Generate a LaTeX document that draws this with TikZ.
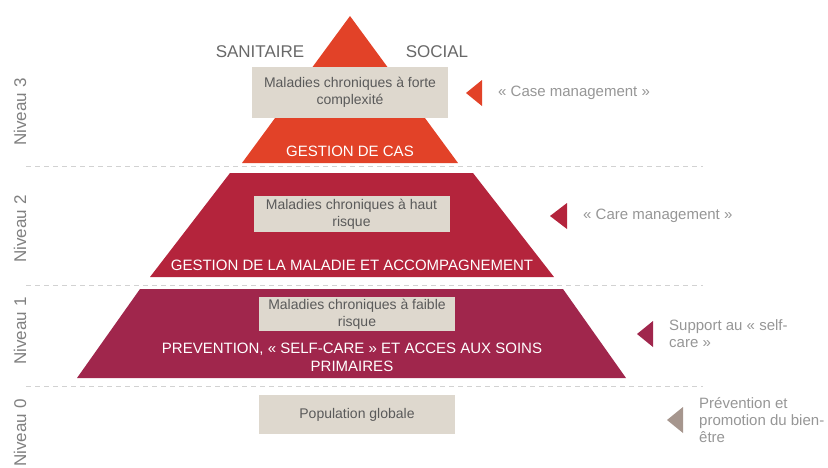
\documentclass[tikz,border=0pt]{standalone}
\usepackage{fontspec}
\setmainfont{Liberation Sans}
\usetikzlibrary{positioning}
\definecolor{pyrorange}{RGB}{226,66,40}
\definecolor{pyrred}{RGB}{180,36,60}
\definecolor{pyrwine}{RGB}{160,38,76}
\definecolor{pyrbeige}{RGB}{222,216,206}
\definecolor{pyrtaupe}{RGB}{166,150,142}
\definecolor{pyrgray}{RGB}{128,128,128}
\definecolor{pyrdark}{RGB}{104,104,104}
\definecolor{pyrlight}{RGB}{150,150,150}
\definecolor{pyrtext}{RGB}{90,90,90}
\definecolor{pyrline}{RGB}{210,210,210}

\begin{document}
\begin{tikzpicture}[
  x=1pt,y=-1pt,
  every node/.style={inner sep=0pt},
  sepline/.style={pyrline,line width=0.9pt,dash pattern=on 5pt off 4pt},
  lvlname/.style={rotate=90,text=pyrgray,font=\fontsize{17}{20}\selectfont},
  sidetitle/.style={text=pyrdark,font=\fontsize{17}{20}\selectfont},
  casebox/.style={fill=pyrbeige,minimum width=196pt,align=center,
                  text=pyrtext,font=\fontsize{14}{17}\selectfont},
  lvltitle/.style={text=white,align=center,font=\fontsize{15}{18}\selectfont},
  sidenote/.style={anchor=west,align=left,text=pyrlight,font=\fontsize{15}{17}\selectfont},
]
  \useasboundingbox (0,0) rectangle (828,467);

  % level separators
  \draw[sepline] (26,166) -- (703,166);
  \draw[sepline] (26,285) -- (703,285);
  \draw[sepline] (26,386) -- (703,386);

  % pyramid
  \fill[pyrorange] (350,16) -- (458,163) -- (242,163) -- cycle;
  \fill[pyrred] (230,173) -- (473,173) -- (554,277) -- (150,277) -- cycle;
  \fill[pyrwine] (140,289) -- (563,289) -- (626,378) -- (77,378) -- cycle;

  % level names
  \node[lvlname] (niv3) at (20,112) {Niveau 3};
  \node[lvlname] (niv2) at (20,229) {Niveau 2};
  \node[lvlname] (niv1) at (20,331) {Niveau 1};
  \node[lvlname] (niv0) at (20,433) {Niveau 0};

  \node[sidetitle] (sanit) at (260,52) {SANITAIRE};
  \node[sidetitle] (social) at (437,52) {SOCIAL};

  % populations
  \node[casebox,minimum height=51pt] (pop3) at (350,92.5)
    {Maladies chroniques à forte\\complexité};
  \node[casebox,minimum height=36pt] (pop2) at (351.5,214)
    {Maladies chroniques à haut\\risque};
  \node[casebox,minimum height=34pt] (pop1) at (357,314)
    {Maladies chroniques à faible\\risque};
  \node[casebox,minimum height=39pt] (pop0) at (357,414.5)
    {Population globale};

  % interventions
  \node[lvltitle] (gcas) at (350,151) {GESTION DE CAS};
  \node[lvltitle] (gmal) at (352,265) {GESTION DE LA MALADIE ET ACCOMPAGNEMENT};
  \node[lvltitle] (prev) at (352,357)
    {PREVENTION, « SELF-CARE » ET ACCES AUX SOINS\\PRIMAIRES};

  % side markers
  \coordinate (mk3) at (482,93);
  \coordinate (mk2) at (567,216);
  \coordinate (mk1) at (653,334);
  \coordinate (mk0) at (683,420);
  \fill[pyrorange] (mk3) -- ++(0,-13) -- ++(-16,13) -- ++(16,13) -- cycle;
  \fill[pyrred] (mk2) -- ++(0,-13) -- ++(-17,13) -- ++(17,13) -- cycle;
  \fill[pyrwine] (mk1) -- ++(0,-13) -- ++(-16,13) -- ++(16,13) -- cycle;
  \fill[pyrtaupe] (mk0) -- ++(0,-13) -- ++(-16,13) -- ++(16,13) -- cycle;

  \node[sidenote,right=16pt of mk3] (note3) {« Case management »};
  \node[sidenote,right=16pt of mk2] (note2) {« Care management »};
  \node[sidenote,right=16pt of mk1] (note1) {Support au « self-\\care »};
  \node[sidenote,right=16pt of mk0] (note0) {Prévention et\\promotion du bien-\\être};
\end{tikzpicture}
\end{document}
